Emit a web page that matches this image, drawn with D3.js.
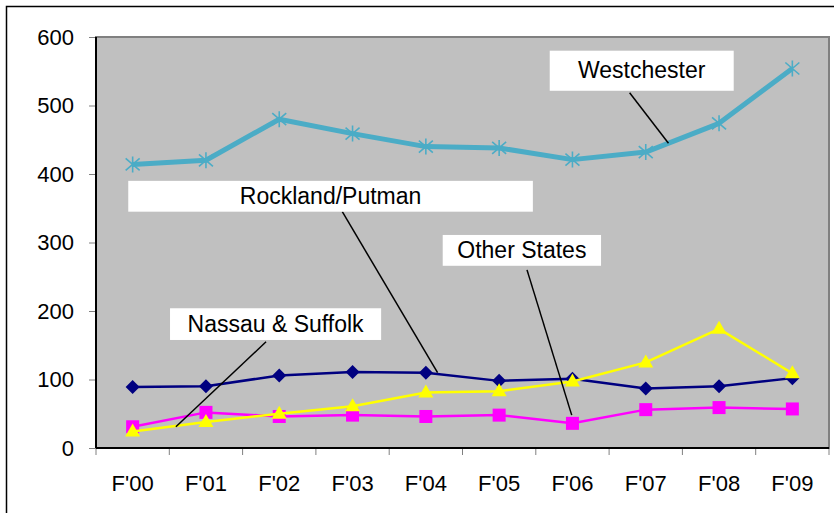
<!DOCTYPE html>
<html>
  <head>
    <style>
      body {
        margin: 0;
        background: #fff;
      }
      svg text {
        font-family: "Liberation Sans", Arial, sans-serif;
        fill: #000;
      }
    </style>
    <script src="https://d3js.org/d3.v7.min.js"></script>
  </head>
  <body>
    <script>
      const width = 834;
      const height = 513;

      // data
      const categories = ["F'00", "F'01", "F'02", "F'03", "F'04", "F'05", "F'06", "F'07", "F'08", "F'09"];
      const westchester = [414, 420, 480, 459, 440, 438, 421, 432, 474, 554];
      const rockland = [89, 90, 106, 111, 110, 98, 101, 87, 90, 102];
      const otherStates = [24, 38, 50, 61, 81, 83, 97, 125, 174, 109];
      const nassau = [31, 52, 46, 48, 46, 48, 36, 56, 59, 57];
      const yTicks = [0, 100, 200, 300, 400, 500, 600];

      // callouts: box in (category index, value) units, leader from -> to
      const callouts = [
        { text: "Westchester", box: [5.69, 8.2, 580, 521.5], from: [6.78, 518.7], to: [7.31, 445] },
        { text: "Rockland/Putman", box: [-0.06, 5.46, 390, 345], from: [2.86, 345], to: [4.16, 110] },
        { text: "Other States", box: [4.23, 6.39, 311, 266], from: [5.38, 260], to: [5.99, 48] },
        { text: "Nassau & Suffolk", box: [0.51, 3.39, 204, 157.7], from: [1.82, 155], to: [0.59, 31] }
      ];

      const margin = { top: 37, right: 5, bottom: 65, left: 96 };

      const svg = d3
        .select("body")
        .append("svg")
        .attr("width", width)
        .attr("height", height);

      // outer frame
      svg
        .append("rect")
        .attr("x", 6.5)
        .attr("y", 6.5)
        .attr("width", width + 20)
        .attr("height", height + 20)
        .attr("fill", "none")
        .attr("stroke", "#000")
        .attr("stroke-width", 1.5);

      const x = d3
        .scaleBand()
        .domain(categories)
        .range([margin.left, width - margin.right]);
      const pos = (i) => x(categories[0]) + (i + 0.5) * x.bandwidth();

      const y = d3
        .scaleLinear()
        .domain([0, 600])
        .range([height - margin.bottom, margin.top]);

      // plot area
      svg
        .append("rect")
        .attr("x", margin.left)
        .attr("y", margin.top)
        .attr("width", width - margin.right - margin.left)
        .attr("height", y(0) - margin.top)
        .attr("fill", "#c0c0c0")
        .attr("stroke", "#808080")
        .attr("stroke-width", 2);

      // y axis
      const yAxis = svg
        .append("g")
        .attr("transform", "translate(" + margin.left + ",0)")
        .call(d3.axisLeft(y).tickValues(yTicks).tickSize(7).tickPadding(15));
      yAxis.select(".domain").remove();
      yAxis.selectAll(".tick line").attr("stroke", "#808080");
      yAxis.selectAll("text").style("font-size", "22px");

      // x axis: labels at centres, ticks on category edges
      const xAxis = svg
        .append("g")
        .attr("transform", "translate(0," + y(0) + ")")
        .call(d3.axisBottom(x).tickSize(0).tickPadding(27));
      xAxis.select(".domain").remove();
      xAxis.selectAll("text").style("font-size", "22px");

      const edges = categories.map((c) => x(c)).concat([x(categories[9]) + x.bandwidth()]);
      svg
        .append("g")
        .selectAll("line")
        .data(edges)
        .enter()
        .append("line")
        .attr("x1", (d) => d)
        .attr("x2", (d) => d)
        .attr("y1", y(0))
        .attr("y2", y(0) + 7)
        .attr("stroke", "#808080");

      // axis lines
      svg
        .append("line")
        .attr("x1", margin.left)
        .attr("x2", margin.left)
        .attr("y1", margin.top)
        .attr("y2", y(0))
        .attr("stroke", "#000")
        .attr("stroke-width", 2);
      svg
        .append("line")
        .attr("x1", margin.left)
        .attr("x2", width - margin.right)
        .attr("y1", y(0))
        .attr("y2", y(0))
        .attr("stroke", "#000")
        .attr("stroke-width", 2);

      const line = d3
        .line()
        .x((d, i) => pos(i))
        .y((d) => y(d));

      function drawSeries(values, color, w) {
        svg
          .append("path")
          .datum(values)
          .attr("d", line)
          .attr("fill", "none")
          .attr("stroke", color)
          .attr("stroke-width", w)
          .attr("stroke-linejoin", "round");
      }

      // Westchester
      drawSeries(westchester, "#4bacc6", 5);
      svg
        .append("g")
        .selectAll("path")
        .data(westchester)
        .enter()
        .append("path")
        .attr("transform", (d, i) => "translate(" + pos(i) + "," + y(d) + ")")
        .attr("d", "M0,-8V8M-7,-6L7,6M-7,6L7,-6")
        .attr("stroke", "#4bacc6")
        .attr("stroke-width", 1.6)
        .attr("fill", "none");

      // Rockland/Putman
      drawSeries(rockland, "#000080", 2.5);
      svg
        .append("g")
        .selectAll("path")
        .data(rockland)
        .enter()
        .append("path")
        .attr("transform", (d, i) => "translate(" + pos(i) + "," + y(d) + ")")
        .attr("d", "M0,-7L7,0L0,7L-7,0Z")
        .attr("fill", "#000080");

      // Nassau & Suffolk
      drawSeries(nassau, "#ff00ff", 2.5);
      svg
        .append("g")
        .selectAll("rect")
        .data(nassau)
        .enter()
        .append("rect")
        .attr("x", (d, i) => pos(i) - 6.5)
        .attr("y", (d) => y(d) - 6.5)
        .attr("width", 13)
        .attr("height", 13)
        .attr("fill", "#ff00ff");

      // Other States
      drawSeries(otherStates, "#ffff00", 2.5);
      svg
        .append("g")
        .selectAll("path")
        .data(otherStates)
        .enter()
        .append("path")
        .attr("transform", (d, i) => "translate(" + pos(i) + "," + y(d) + ")")
        .attr("d", "M0,-8L7.5,5L-7.5,5Z")
        .attr("fill", "#ffff00");

      // callouts
      const co = svg.append("g").selectAll("g").data(callouts).enter().append("g");
      co.append("line")
        .attr("x1", (d) => pos(d.from[0]))
        .attr("y1", (d) => y(d.from[1]))
        .attr("x2", (d) => pos(d.to[0]))
        .attr("y2", (d) => y(d.to[1]))
        .attr("stroke", "#000")
        .attr("stroke-width", 1.5);
      co.append("rect")
        .attr("x", (d) => pos(d.box[0]))
        .attr("y", (d) => y(d.box[2]))
        .attr("width", (d) => pos(d.box[1]) - pos(d.box[0]))
        .attr("height", (d) => y(d.box[3]) - y(d.box[2]))
        .attr("fill", "#fff");
      co.append("text")
        .attr("x", (d) => (pos(d.box[0]) + pos(d.box[1])) / 2)
        .attr("y", (d) => (y(d.box[2]) + y(d.box[3])) / 2)
        .attr("dy", "0.33em")
        .attr("text-anchor", "middle")
        .style("font-size", "23px")
        .text((d) => d.text);
    </script>
  </body>
</html>
